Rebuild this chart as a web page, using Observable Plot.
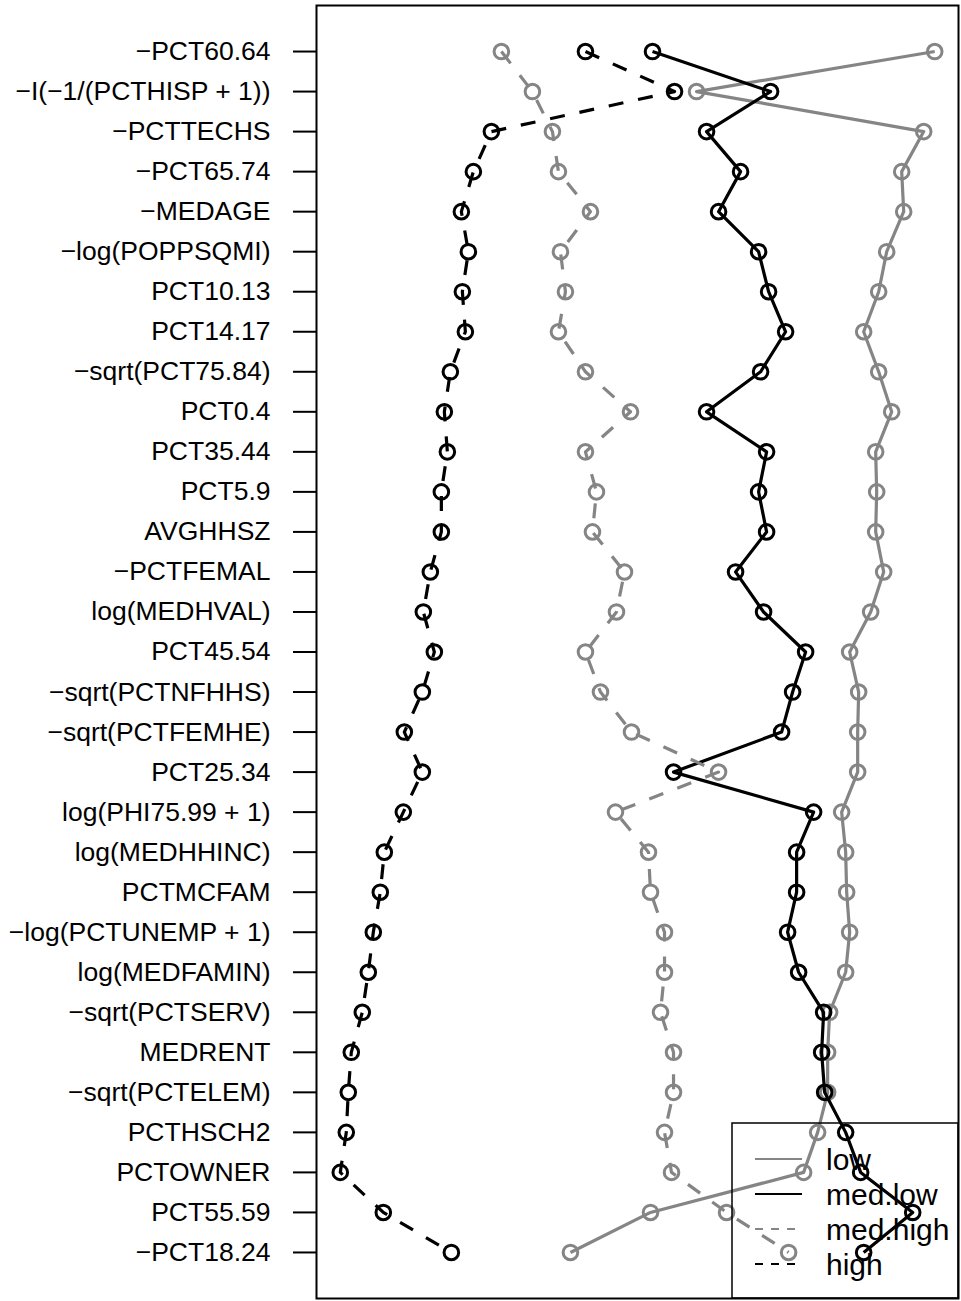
<!DOCTYPE html>
<html>
<head>
<meta charset="utf-8">
<script src="https://cdn.jsdelivr.net/npm/d3@7"></script>
<script src="https://cdn.jsdelivr.net/npm/@observablehq/plot@0.6"></script>
<style>
  html, body { margin: 0; padding: 0; background: #fff; }
  #wrap { position: relative; width: 961px; height: 1301px; font-family: "Liberation Sans", Arial, sans-serif; }
  #legend { position: absolute; left: 0; top: 0; pointer-events: none; }
</style>
</head>
<body>
<div id="wrap"></div>
<script>
// Variables (rows from top to bottom)
const labels = [
  "−PCT60.64", "−I(−1/(PCTHISP + 1))", "−PCTTECHS", "−PCT65.74", "−MEDAGE",
  "−log(POPPSQMI)", "PCT10.13", "PCT14.17", "−sqrt(PCT75.84)", "PCT0.4",
  "PCT35.44", "PCT5.9", "AVGHHSZ", "−PCTFEMAL", "log(MEDHVAL)",
  "PCT45.54", "−sqrt(PCTNFHHS)", "−sqrt(PCTFEMHE)", "PCT25.34", "log(PHI75.99 + 1)",
  "log(MEDHHINC)", "PCTMCFAM", "−log(PCTUNEMP + 1)", "log(MEDFAMIN)", "−sqrt(PCTSERV)",
  "MEDRENT", "−sqrt(PCTELEM)", "PCTHSCH2", "PCTOWNER", "PCT55.59", "−PCT18.24"
];

// Series values (arbitrary units)
const low = [6.35, 3.97, 6.24, 6.02, 6.04, 5.87, 5.79, 5.64, 5.79, 5.92,
  5.76, 5.77, 5.76, 5.84, 5.71, 5.50, 5.59, 5.58, 5.58, 5.42,
  5.46, 5.47, 5.50, 5.46, 5.30, 5.28, 5.28, 5.18, 5.04, 3.51, 2.71];
const medLow = [3.53, 4.71, 4.07, 4.41, 4.19, 4.59, 4.69, 4.86, 4.61, 4.07,
  4.67, 4.59, 4.67, 4.36, 4.64, 5.06, 4.93, 4.82, 3.74, 5.14,
  4.97, 4.97, 4.88, 4.99, 5.24, 5.22, 5.25, 5.46, 5.61, 6.13, 5.64];
const medHigh = [2.02, 2.33, 2.53, 2.59, 2.91, 2.61, 2.66, 2.59, 2.86, 3.31,
  2.86, 2.97, 2.93, 3.25, 3.17, 2.86, 3.01, 3.32, 4.19, 3.16,
  3.49, 3.51, 3.65, 3.65, 3.61, 3.74, 3.74, 3.65, 3.72, 4.27, 4.89];
const high = [2.86, 3.75, 1.92, 1.74, 1.62, 1.69, 1.63, 1.66, 1.51, 1.45,
  1.48, 1.42, 1.42, 1.31, 1.24, 1.35, 1.23, 1.05, 1.23, 1.04,
  0.85, 0.81, 0.74, 0.69, 0.63, 0.52, 0.49, 0.47, 0.41, 0.84, 1.52];

const seriesNames = ["low", "med.low", "med.high", "high"];
const seriesValues = [low, medLow, medHigh, high];
const seriesColor = ["#858585", "#000000", "#858585", "#000000"];
const seriesDash = [null, null, "15,15", "15,15"];

const table = seriesNames.map((name, s) =>
  labels.map((label, i) => ({series: name, label, value: seriesValues[s][i]}))
);

const all = seriesValues.flat();
const [lo, hi] = d3.extent(all);
const pad = (hi - lo) * 0.04;

const marks = [];
table.forEach((rows, s) => {
  marks.push(Plot.line(rows, {
    x: "value", y: "label",
    stroke: seriesColor[s], strokeWidth: 3.2,
    strokeDasharray: seriesDash[s] || undefined,
    strokeLinejoin: "round", strokeLinecap: "butt"
  }));
  marks.push(Plot.dot(rows, {
    x: "value", y: "label",
    r: 7.3, stroke: seriesColor[s], strokeWidth: 3, fill: "none"
  }));
});

const chart = Plot.plot({
  width: 961,
  height: 1301,
  marginLeft: 316,
  marginRight: 3,
  marginTop: 5,
  marginBottom: 3,
  style: {fontFamily: "'Liberation Sans', Arial, sans-serif", background: "#fff", color: "#000"},
  x: {domain: [lo - pad, hi + pad], axis: null},
  y: {type: "point", domain: labels, padding: 1.15, round: false, axis: null},
  marks: [
    ...marks,
    Plot.axisY({anchor: "left", tickSize: 23, tickPadding: 23, fontSize: 26.5, strokeWidth: 2, label: null}),
    Plot.frame({stroke: "#000", strokeWidth: 2})
  ]
});

const wrap = document.getElementById("wrap");
wrap.appendChild(chart);

// Legend overlay (inside plot, bottom-right, transparent background)
const lg = d3.select(wrap).append("svg")
  .attr("id", "legend").attr("width", 961).attr("height", 1301);
lg.append("rect")
  .attr("x", 732).attr("y", 1123).attr("width", 226).attr("height", 175)
  .attr("fill", "none").attr("stroke", "#000").attr("stroke-width", 1.5);
seriesNames.forEach((name, s) => {
  const y = 1159 + s * 35;
  lg.append("line")
    .attr("x1", 755).attr("x2", 802).attr("y1", y).attr("y2", y)
    .attr("stroke", seriesColor[s]).attr("stroke-width", 2)
    .attr("stroke-dasharray", seriesDash[s] ? "8,8" : null);
  lg.append("text")
    .attr("x", 826).attr("y", y).attr("dy", "0.35em")
    .attr("font-size", 30)
    .attr("font-family", "'Liberation Sans', Arial, sans-serif")
    .attr("fill", "#000")
    .text(name);
});
</script>
</body>
</html>
